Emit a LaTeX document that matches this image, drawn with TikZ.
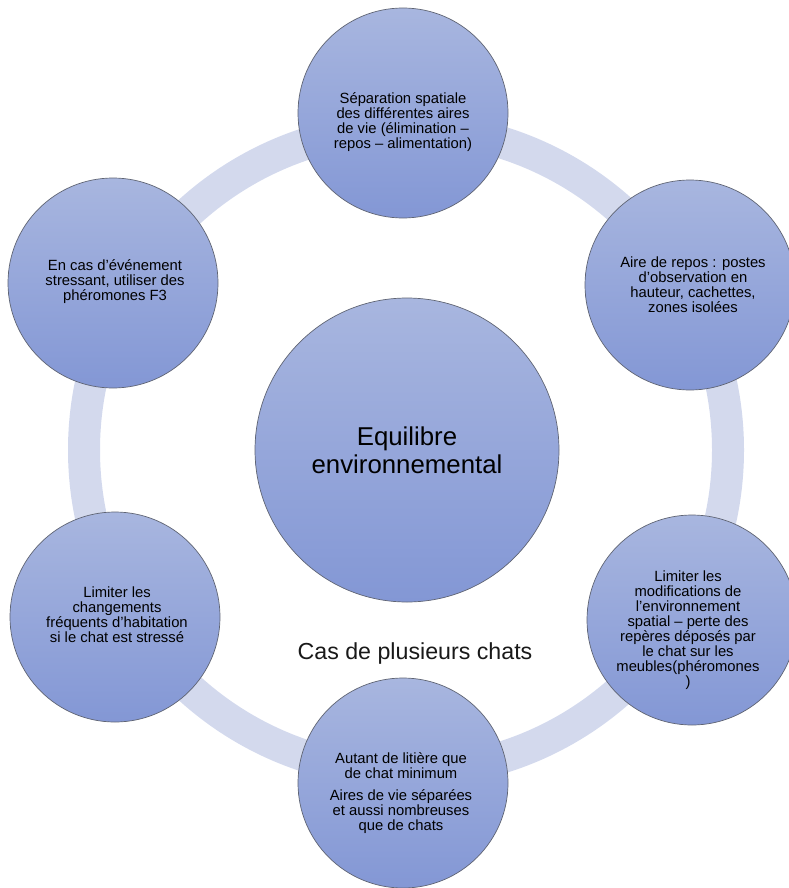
\documentclass[tikz,border=0pt]{standalone}
\usepackage{fontspec}
\setmainfont{Liberation Sans}

\definecolor{petaltop}{RGB}{168,182,223}
\definecolor{petalbot}{RGB}{131,151,213}
\definecolor{ringcol}{RGB}{211,217,237}
\definecolor{rim}{RGB}{95,100,115}

\tikzset{
  petal/.style={circle, minimum size=210, inner sep=0, top color=petaltop, bottom color=petalbot, draw=rim, line width=0.7},
  hub/.style={petal, minimum size=304, align=center, text=black, font=\fontsize{25.8}{28}\selectfont},
  txt/.style={align=center, text=black, font=\fontsize{14.8}{15}\selectfont}
}

\begin{document}
\begin{tikzpicture}[x=1pt,y=-1pt]
			\useasboundingbox (0,0) rectangle (789,888);
			% ring behind
			\coordinate (mid) at (406,450);
			\draw[ringcol, line width=32] (mid) circle[radius=322];
			% centre
			\node[hub] (hub) at (407,450) {Equilibre\\environnemental};
			% petals
			\node[petal] (sep) at (403,113) {};
			\node[txt] (septxt) at (403,122) {Séparation spatiale\\des différentes aires\\de vie (élimination –\\repos – alimentation)};
			\node[petal] (repos) at (690,285) {};
			\node[txt] (repostxt) at (693,285) {Aire de repos : postes\\d’observation en\\hauteur, cachettes,\\zones isolées};
			\node[petal] (modif) at (692,620) {};
			\node[txt] (modiftxt) at (688,630) {Limiter les\\modifications de\\l’environnement\\spatial – perte des\\repères déposés par\\le chat sur les\\meubles(phéromones\\)};
			\node[petal] (litiere) at (403,783) {};
			\node[txt] (litieretxt) at (401,793) {Autant de litière que\\de chat minimum\\[7pt]Aires de vie séparées\\et aussi nombreuses\\que de chats};
			\node[petal] (habit) at (115,617) {};
			\node[txt] (habittxt) at (117,615) {Limiter les\\changements\\fréquents d’habitation\\si le chat est stressé};
			\node[petal] (stress) at (113,283) {};
			\node[txt] (stresstxt) at (115,282) {En cas d’événement\\stressant, utiliser des\\phéromones F3};
			% caption
			\node[font=\fontsize{23.2}{26}\selectfont, text=black!90] (cas) at (415,653) {Cas de plusieurs chats};
		\end{tikzpicture}
\end{document}
